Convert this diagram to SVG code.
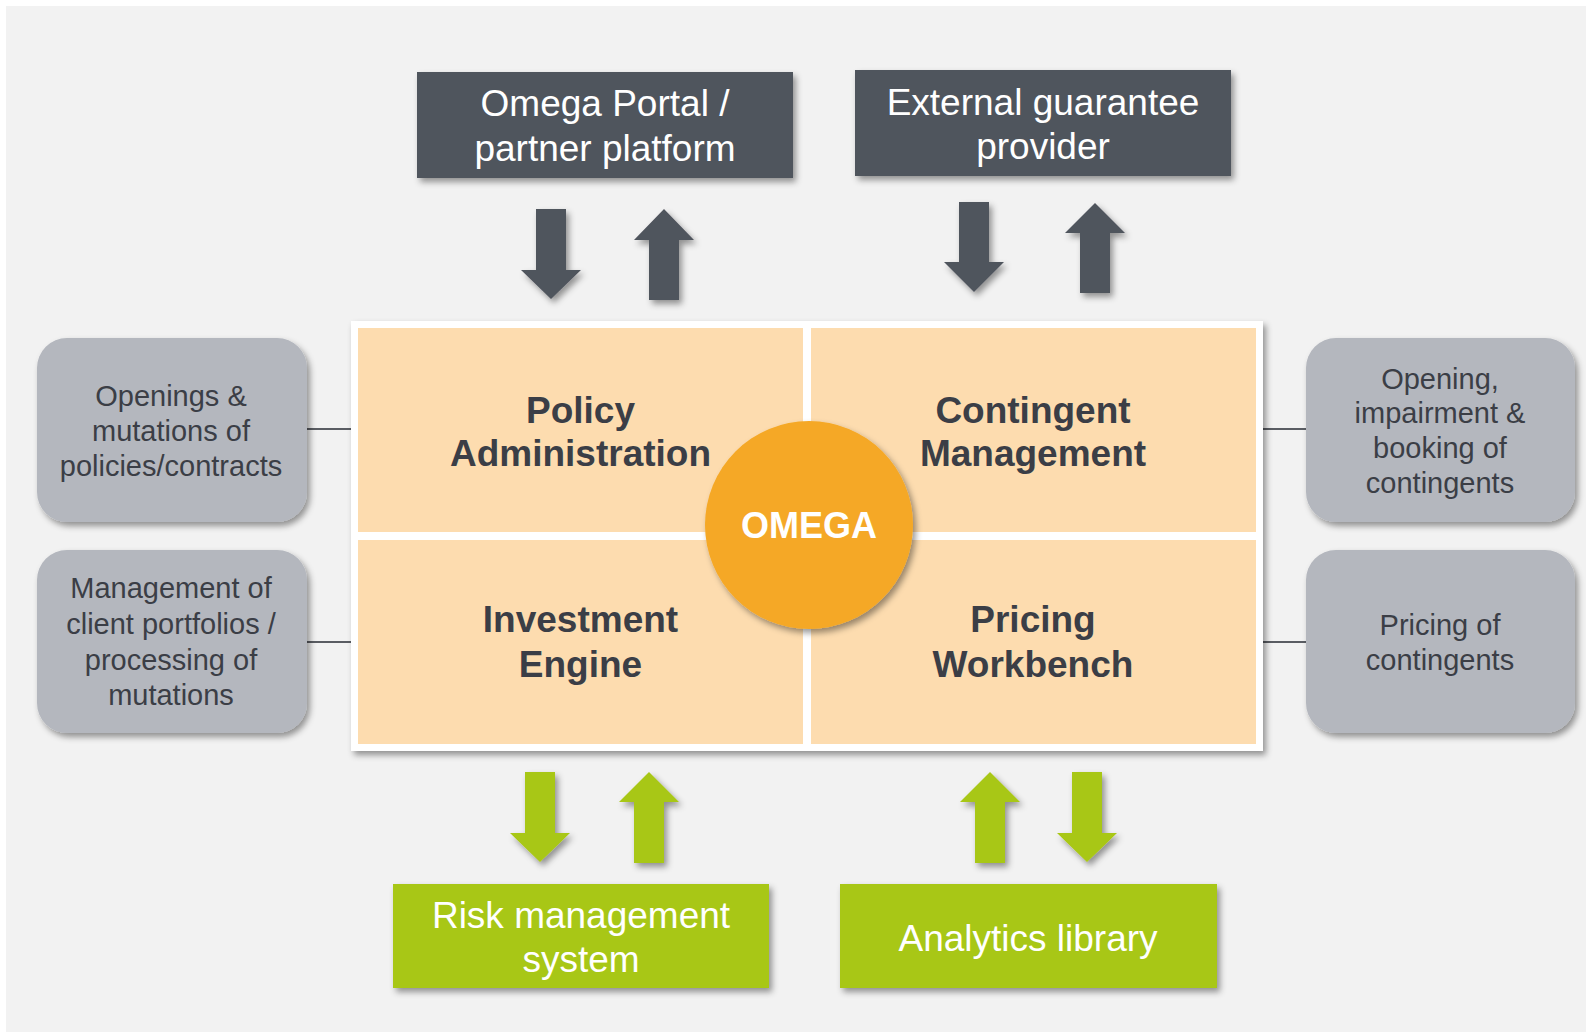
<svg xmlns="http://www.w3.org/2000/svg" width="1586" height="1032" viewBox="0 0 1586 1032">
<defs>
<filter id="sh" x="-20%" y="-20%" width="150%" height="150%">
<feDropShadow dx="3" dy="4" stdDeviation="3" flood-color="#000" flood-opacity="0.4"/>
</filter>
<style>
.dark{fill:#50545d}
.green{fill:#a8c712}
.quad{fill:#fddcaf}
.side{fill:#b4b7be}
.wt{font-family:"Liberation Sans",Arial,sans-serif;font-size:37px;fill:#ffffff;text-anchor:middle}
.qt{font-family:"Liberation Sans",Arial,sans-serif;font-size:37px;font-weight:bold;fill:#3b3e46;text-anchor:middle}
.st{font-family:"Liberation Sans",Arial,sans-serif;font-size:29px;fill:#3b3e46;text-anchor:middle}
.ln{stroke:#5a5d63;stroke-width:2;fill:none}
</style>
</defs>
<rect x="0" y="0" width="1586" height="1032" fill="#ffffff"/>
<rect x="6" y="6" width="1580" height="1026" fill="#f2f2f2"/>

<g id="connectors">
<line class="ln" x1="307" y1="429" x2="355" y2="429"/>
<line class="ln" x1="307" y1="642" x2="355" y2="642"/>
<line class="ln" x1="1259" y1="429" x2="1306" y2="429"/>
<line class="ln" x1="1259" y1="642" x2="1306" y2="642"/>
<g class="dark" filter="url(#sh)">
<polygon points="536,209 566,209 566,270 581,270 551,299 521,270 536,270"/>
<polygon points="664,209 694,240 679,240 679,300 649,300 649,240 634,240"/>
<polygon points="959,202 989,202 989,262 1004,262 974,292 944,262 959,262"/>
<polygon points="1095,203 1125,233 1110,233 1110,293 1080,293 1080,233 1065,233"/>
</g>
<g class="green" filter="url(#sh)">
<polygon points="525,772 555,772 555,833 570,833 540,862 510,833 525,833"/>
<polygon points="649,772 679,802 664,802 664,863 634,863 634,802 619,802"/>
<polygon points="990,772 1020,802 1005,802 1005,863 975,863 975,802 960,802"/>
<polygon points="1072,772 1102,772 1102,833 1117,833 1087,862 1057,833 1072,833"/>
</g>
</g>

<g id="portal">
<rect class="dark" x="417" y="72" width="376" height="106" filter="url(#sh)"/>
<text class="wt" x="605" y="116">Omega Portal /</text>
<text class="wt" x="605" y="161">partner platform</text>
</g>
<g id="guarantee">
<rect class="dark" x="855" y="70" width="376" height="106" filter="url(#sh)"/>
<text class="wt" x="1043" y="115">External guarantee</text>
<text class="wt" x="1043" y="159">provider</text>
</g>

<g id="omega-frame">
<rect x="351" y="321" width="912" height="430" fill="#ffffff" filter="url(#sh)"/>
</g>
<g id="policy-admin">
<rect class="quad" x="358" y="328" width="445" height="204"/>
<text class="qt" x="580.5" y="423">Policy</text>
<text class="qt" x="580.5" y="466">Administration</text>
</g>
<g id="contingent-mgmt">
<rect class="quad" x="811" y="328" width="445" height="204"/>
<text class="qt" x="1033" y="423">Contingent</text>
<text class="qt" x="1033" y="466">Management</text>
</g>
<g id="investment-engine">
<rect class="quad" x="358" y="540" width="445" height="204"/>
<text class="qt" x="580.5" y="632">Investment</text>
<text class="qt" x="580.5" y="677">Engine</text>
</g>
<g id="pricing-workbench">
<rect class="quad" x="811" y="540" width="445" height="204"/>
<text class="qt" x="1033" y="632">Pricing</text>
<text class="qt" x="1033" y="677">Workbench</text>
</g>
<g id="omega">
<circle cx="809" cy="525" r="104" fill="#f5a826" filter="url(#sh)"/>
<text x="809" y="538" font-family="'Liberation Sans',Arial,sans-serif" font-size="36" font-weight="bold" fill="#ffffff" text-anchor="middle">OMEGA</text>
</g>

<g id="side-openings">
<rect class="side" x="37" y="338" width="270" height="184" rx="30" filter="url(#sh)"/>
<text class="st" x="171" y="406">Openings &amp;</text>
<text class="st" x="171" y="441">mutations of</text>
<text class="st" x="171" y="476">policies/contracts</text>
</g>
<g id="side-portfolios">
<rect class="side" x="37" y="550" width="270" height="183" rx="30" filter="url(#sh)"/>
<text class="st" x="171" y="598">Management of</text>
<text class="st" x="171" y="634">client portfolios /</text>
<text class="st" x="171" y="670">processing of</text>
<text class="st" x="171" y="705">mutations</text>
</g>
<g id="side-contingents">
<rect class="side" x="1306" y="338" width="269" height="184" rx="30" filter="url(#sh)"/>
<text class="st" x="1440" y="389">Opening,</text>
<text class="st" x="1440" y="423">impairment &amp;</text>
<text class="st" x="1440" y="458">booking of</text>
<text class="st" x="1440" y="493">contingents</text>
</g>
<g id="side-pricing">
<rect class="side" x="1306" y="550" width="269" height="183" rx="30" filter="url(#sh)"/>
<text class="st" x="1440" y="635">Pricing of</text>
<text class="st" x="1440" y="670">contingents</text>
</g>

<g id="risk">
<rect class="green" x="393" y="884" width="376" height="104" filter="url(#sh)"/>
<text class="wt" x="581" y="928">Risk management</text>
<text class="wt" x="581" y="972">system</text>
</g>
<g id="analytics">
<rect class="green" x="840" y="884" width="377" height="104" filter="url(#sh)"/>
<text class="wt" x="1028" y="951">Analytics library</text>
</g>
</svg>
